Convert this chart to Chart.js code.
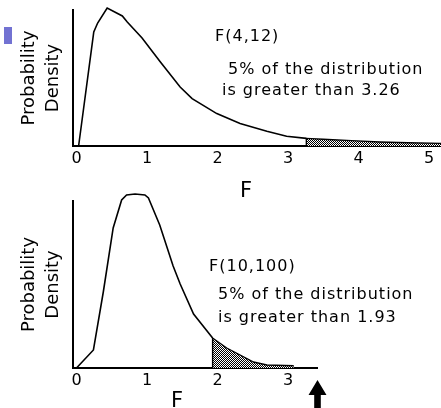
<!DOCTYPE html>
<html><head><meta charset="utf-8">
<script src="https://cdn.jsdelivr.net/npm/chart.js@4"></script>
<style>
html,body{margin:0;padding:0;background:#fff;}
body{width:441px;height:408px;position:relative;overflow:hidden;}
#c1{position:absolute;left:0;top:0;}
#c2{position:absolute;left:0;top:185px;}
#sq{position:absolute;left:4px;top:27px;width:8px;height:17px;background:#7272d2;}
</style></head><body>
<div id="sq"></div>
<canvas id="c1" width="441" height="200"></canvas>
<canvas id="c2" width="441" height="223"></canvas>
<script>
// ---- data ----
const topF        = [0.03, 0.245, 0.30, 0.435, 0.65, 0.72, 0.93, 1.19, 1.47, 1.64, 1.99, 2.32, 2.70, 2.98, 3.26];
const topDensity  = [0, 0.57, 0.615, 0.69, 0.65, 0.62, 0.54, 0.42, 0.295, 0.237, 0.162, 0.112, 0.074, 0.049, 0.038];
const topTailF       = [3.26, 3.26, 3.5, 3.9, 4.3, 4.7, 5.17];
const topTailDensity = [0, 0.038, 0.034, 0.027, 0.020, 0.016, 0.013];
const topTicks = [0, 1, 2, 3, 4, 5];
const topText = ['F(4,12)', '5% of the distribution', 'is greater than 3.26'];

const botF        = [0.0, 0.24, 0.38, 0.52, 0.64, 0.71, 0.83, 0.97, 1.02, 1.18, 1.37, 1.47, 1.66, 1.93];
const botDensity  = [0, 0.09, 0.38, 0.70, 0.84, 0.865, 0.87, 0.865, 0.85, 0.715, 0.51, 0.42, 0.27, 0.15];
const botTailF       = [1.93, 1.93, 2.13, 2.32, 2.51, 2.70, 3.08];
const botTailDensity = [0, 0.15, 0.10, 0.065, 0.03, 0.015, 0.011];
const botTicks = [0, 1, 2, 3];
const botText = ['F(10,100)', '5% of the distribution', 'is greater than 1.93'];

const yTitle = ['Probability', 'Density'];
const xTitle = 'F';

Chart.defaults.font.family = 'DejaVu Sans';
Chart.defaults.color = '#000';

// dither pattern for the shaded tail
const pc = document.createElement('canvas'); pc.width = 2; pc.height = 2;
const pctx = pc.getContext('2d');
pctx.fillStyle = '#fff'; pctx.fillRect(0, 0, 2, 2);
pctx.fillStyle = '#000'; pctx.fillRect(0, 0, 1, 1); pctx.fillRect(1, 1, 1, 1);
const pat = pctx.createPattern(pc, 'repeat');

const annot = {
  id: 'annot',
  afterDraw(chart, args, o) {
    const ctx = chart.ctx;
    ctx.save();
    ctx.fillStyle = '#000';
    (o.items || []).forEach(it => {
      ctx.font = it.font;
      ctx.letterSpacing = it.ls || '0px';
      ctx.textAlign = it.align || 'left';
      ctx.textBaseline = 'alphabetic';
      ctx.fillText(it.text, it.x, it.y);
    });
    if (o.arrow) {
      const a = o.arrow;
      ctx.beginPath();
      ctx.moveTo(a.x, a.top);
      ctx.lineTo(a.x + a.hw, a.headBottom);
      ctx.lineTo(a.x + a.sw, a.headBottom);
      ctx.lineTo(a.x + a.sw, a.bottom);
      ctx.lineTo(a.x - a.sw, a.bottom);
      ctx.lineTo(a.x - a.sw, a.headBottom);
      ctx.lineTo(a.x - a.hw, a.headBottom);
      ctx.closePath();
      ctx.fill();
    }
    ctx.restore();
  }
};

function pts(xs, ys) { return xs.map((x, i) => ({x: x, y: ys[i]})); }

function makeChart(id, cfg) {
  return new Chart(document.getElementById(id), {
    type: 'line',
    data: {
      datasets: [
        {data: pts(cfg.f, cfg.d), borderColor: '#000', borderWidth: 1.6, pointRadius: 0, tension: 0, fill: false, clip: false},
        {data: pts(cfg.tf, cfg.td), borderColor: '#000', borderWidth: 1.4, pointRadius: 0, tension: 0, fill: 'origin', backgroundColor: pat, clip: false}
      ]
    },
    options: {
      responsive: false, animation: false,
      layout: {padding: cfg.padding},
      plugins: {legend: {display: false}, tooltip: {enabled: false}, annot: {items: cfg.items, arrow: cfg.arrow}},
      scales: {
        x: {
          type: 'linear', min: cfg.xmin, max: cfg.xmax,
          afterBuildTicks: s => { s.ticks = cfg.ticks.map(v => ({value: v})); },
          ticks: {font: {size: 16}, color: '#000', padding: 3, callback: v => String(v)},
          grid: {display: false, drawTicks: false},
          border: {display: true, color: '#000', width: 2},
          afterFit: s => { s.height = cfg.xh; }
        },
        y: {
          type: 'linear', min: 0, max: cfg.ymax,
          ticks: {display: false},
          grid: {display: false, drawTicks: false},
          border: {display: true, color: '#000', width: 2},
          title: {display: true, text: yTitle, color: '#000', font: {size: 18, lineHeight: '24px'}, padding: {top: 17, bottom: 0}},
          afterFit: s => { s.width = 73; }
        }
      }
    },
    plugins: [annot]
  });
}

makeChart('c1', {
  f: topF, d: topDensity, tf: topTailF, td: topTailDensity, ticks: topTicks,
  xmin: -0.0496, xmax: 5.17, ymax: 0.68, xh: 54,
  padding: {top: 10, right: 0, bottom: 0, left: 0},
  items: [
    {text: topText[0], x: 215, y: 41, font: '16px "DejaVu Sans"', ls: '1px'},
    {text: topText[1], x: 228, y: 74, font: '16px "DejaVu Sans"', ls: '1px'},
    {text: topText[2], x: 222, y: 95, font: '16px "DejaVu Sans"', ls: '1px'},
    {text: xTitle, x: 246, y: 197, font: '21px "DejaVu Sans"', align: 'center'}
  ]
});

makeChart('c2', {
  f: botF, d: botDensity, tf: botTailF, td: botTailDensity, ticks: botTicks,
  xmin: -0.0496, xmax: 3.41, ymax: 0.835, xh: 40,
  padding: {top: 16, right: 124, bottom: 0, left: 0},
  items: [
    {text: botText[0], x: 209, y: 86, font: '16px "DejaVu Sans"', ls: '1px'},
    {text: botText[1], x: 218, y: 114, font: '16px "DejaVu Sans"', ls: '1px'},
    {text: botText[2], x: 218, y: 136.5, font: '16px "DejaVu Sans"', ls: '1px'},
    {text: xTitle, x: 177, y: 221.5, font: '21px "DejaVu Sans"', align: 'center'}
  ],
  arrow: {x: 317.5, top: 195, headBottom: 210, hw: 9, sw: 3.3, bottom: 223}
});
</script></body></html>
